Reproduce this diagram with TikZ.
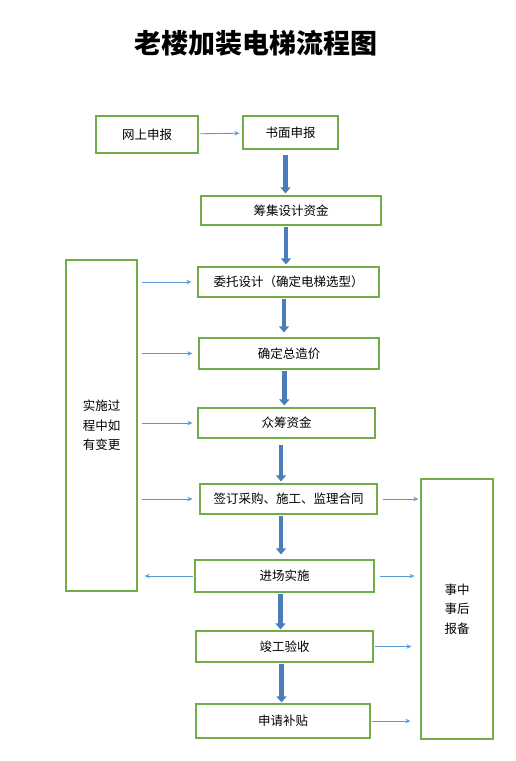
\documentclass[tikz,border=0pt]{standalone}
\usepackage{fontspec}
\newfontfamily\cjk{Noto Sans CJK SC}
\usetikzlibrary{arrows.meta}
\definecolor{boxgreen}{RGB}{112,173,71}
\definecolor{thinblue}{RGB}{91,155,213}
\definecolor{flowblue}{RGB}{74,126,187}
\tikzset{
  box/.style={draw=boxgreen,line width=1.2pt,inner sep=0pt,font=\cjk\fontsize{12.5}{19.5}\selectfont,align=center},
  ln/.style={-{Stealth[length=5pt,width=4.5pt]},draw=thinblue,line width=0.9pt},
  flow/.style={-{Triangle[length=6pt,width=10pt]},draw=flowblue,line width=4.5pt},
  ttl/.style={font=\cjk\bfseries\fontsize{27}{30}\selectfont}
}
\begin{document}
\begin{tikzpicture}[x=1pt,y=-1pt]
\useasboundingbox (0,0) rectangle (516,761);

\node[ttl] (title) at (256,43) {老楼加装电梯流程图};

\node[box,minimum width=102pt,minimum height=37pt] (web) at (147,134.5) {网上申报};
\node[box,minimum width=95pt,minimum height=33pt] (paper) at (290.5,132.5) {书面申报};
\node[box,minimum width=180pt,minimum height=29pt] (fund) at (291,210.5) {筹集设计资金};
\node[box,minimum width=181pt,minimum height=30pt] (design) at (288.5,282) {委托设计（确定电梯选型）};
\node[box,minimum width=180pt,minimum height=31pt] (cost) at (289,353.5) {确定总造价};
\node[box,minimum width=177pt,minimum height=30pt] (crowd) at (286.5,423) {众筹资金};
\node[box,minimum width=177pt,minimum height=30pt] (sign) at (288.5,499) {签订采购、施工、监理合同};
\node[box,minimum width=179pt,minimum height=32pt] (build) at (284.5,576) {进场实施};
\node[box,minimum width=177pt,minimum height=31pt] (accept) at (284.5,646.5) {竣工验收};
\node[box,minimum width=174pt,minimum height=34pt] (subsidy) at (283,721) {申请补贴};

\node[box,minimum width=71pt,minimum height=331pt] (change) at (101.5,425.5) {实施过\\程中如\\有变更};
\node[box,minimum width=72pt,minimum height=260pt] (report) at (457,609) {事中\\事后\\报备};

% main flow
\draw[ln,shorten <=1pt,shorten >=3pt] (web) -- (paper);
\draw[flow,shorten <=5pt,shorten >=2pt] ([xshift=-5pt]paper.south) -- ([xshift=-5pt]paper.south |- fund.north);
\draw[flow,shorten <=1pt,shorten >=2pt] ([xshift=-5pt]fund.south) -- ([xshift=-5pt]fund.south |- design.north);
\draw[flow,shorten <=1pt,shorten >=5pt] ([xshift=-4.5pt]design.south) -- ([xshift=-4.5pt]design.south |- cost.north);
\draw[flow,shorten <=1pt,shorten >=2pt] ([xshift=-4.7pt]cost.south) -- ([xshift=-4.7pt]cost.south |- crowd.north);
\draw[flow,shorten <=6pt,shorten >=2pt] ([xshift=-5.5pt]crowd.south) -- ([xshift=-5.5pt]crowd.south |- sign.north);
\draw[flow,shorten <=1pt,shorten >=5pt] ([xshift=-7.5pt]sign.south) -- ([xshift=-7.5pt]sign.south |- build.north);
\draw[flow,shorten <=1pt,shorten >=1pt] ([xshift=-4pt]build.south) -- ([xshift=-4pt]build.south |- accept.north);
\draw[flow,shorten <=1pt,shorten >=1pt] ([xshift=-3pt]accept.south) -- ([xshift=-3pt]accept.south |- subsidy.north);

% changes
\draw[ln,shorten <=4pt,shorten >=6pt] (change.east |- design) -- (design.west);
\draw[ln,shorten <=4pt,shorten >=6pt] (change.east |- cost) -- (cost.west);
\draw[ln,shorten <=4pt,shorten >=5pt] (change.east |- crowd) -- (crowd.west);
\draw[ln,shorten <=4pt,shorten >=7pt] (change.east |- sign) -- (sign.west);
\draw[ln,shorten <=1pt,shorten >=7pt] (build.west) -- (change.east |- build);

% filing
\draw[ln,shorten <=5pt,shorten >=2pt] (sign.east) -- (report.west |- sign);
\draw[ln,shorten <=5pt,shorten >=6pt] (build.east) -- (report.west |- build);
\draw[ln,shorten <=1pt,shorten >=9pt] (accept.east) -- (report.west |- accept);
\draw[ln,shorten <=1pt,shorten >=10pt] (subsidy.east) -- (report.west |- subsidy);
\end{tikzpicture}
\end{document}
